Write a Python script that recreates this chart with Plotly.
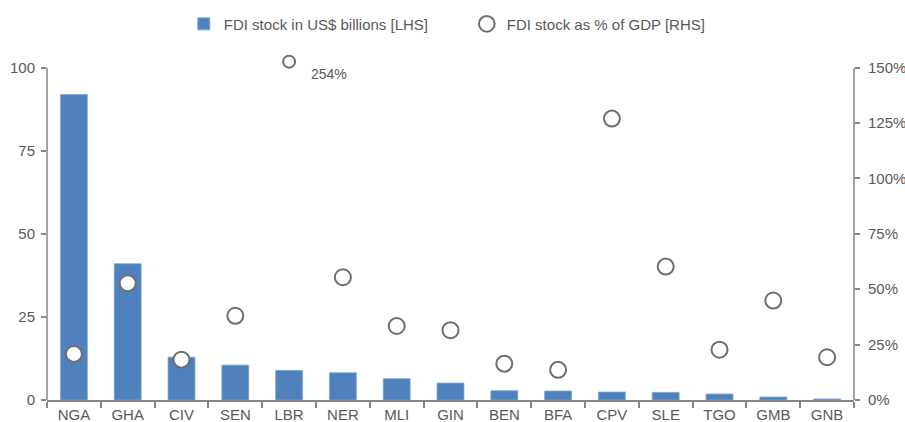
import plotly.graph_objects as go

countries = ["NGA", "GHA", "CIV", "SEN", "LBR", "NER", "MLI", "GIN",
             "BEN", "BFA", "CPV", "SLE", "TGO", "GMB", "GNB"]
fdi_stock_bn = [91.9, 41.0, 12.9, 10.5, 8.9, 8.2, 6.4, 5.1,
                2.8, 2.7, 2.4, 2.3, 1.8, 0.9, 0.3]
fdi_pct_gdp = [20.8, 52.7, 18.2, 38.0, 254.0, 55.4, 33.4, 31.5,
               16.4, 13.6, 127.0, 60.2, 22.7, 44.9, 19.3]

left_ticks = [0, 25, 50, 75, 100]
right_ticks = [0, 25, 50, 75, 100, 125, 150]
right_labels = [f"{t}%" for t in right_ticks]

# values beyond the right scale are pinned just above its top and labelled
PCT_CAP = 152.7
pct_shown = [min(v, PCT_CAP) for v in fdi_pct_gdp]
marker_sizes = [12 if v > PCT_CAP else 16 for v in fdi_pct_gdp]

# both value axes run a little past their last tick to leave room for the pin
HEADROOM = 153 / 150
LEFT_MAX, RIGHT_MAX = left_ticks[-1], right_ticks[-1]

FONT = "Liberation Sans, Arial, sans-serif"
FS = 15
GREY_TXT = "#595959"
AXIS = "#868686"

fig = go.Figure()
fig.add_trace(go.Bar(
    x=countries, y=fdi_stock_bn, name="FDI stock in US$ billions [LHS]",
    marker=dict(color="#4F81BD", line=dict(color="#7FA3D0", width=0.8)),
    width=0.5, yaxis="y",
))
fig.add_trace(go.Scatter(
    x=countries, y=pct_shown, name="FDI stock as % of GDP [RHS]",
    mode="markers", yaxis="y2", cliponaxis=False,
    marker=dict(symbol="circle", size=marker_sizes, color="white",
                opacity=1, line=dict(color="#6E6E6E", width=2)),
))

for c, v, s in zip(countries, fdi_pct_gdp, pct_shown):
    if v > s:
        fig.add_annotation(x=c, xref="x", y=s, yref="y2", text=f"{v:.0f}%",
                           showarrow=False, xanchor="left", yanchor="top",
                           xshift=20, yshift=-2,
                           font=dict(family=FONT, size=FS - 1, color=GREY_TXT))

# value-axis spines stop at the last tick
fig.add_shape(type="line", xref="paper", x0=0, x1=0, yref="y",
              y0=0, y1=LEFT_MAX, line=dict(color=AXIS, width=1.5))
fig.add_shape(type="line", xref="paper", x0=1, x1=1, yref="y2",
              y0=0, y1=RIGHT_MAX, line=dict(color=AXIS, width=1.5))

fig.update_layout(
    width=905, height=422,
    margin=dict(l=47, r=51, t=61, b=22, autoexpand=False),
    paper_bgcolor="white", plot_bgcolor="white",
    font=dict(family=FONT, size=FS, color=GREY_TXT),
    showlegend=True,
    legend=dict(orientation="h", x=0.1695, xanchor="left",
                y=0.982, yanchor="top", yref="container",
                font=dict(family=FONT, size=FS, color=GREY_TXT),
                itemwidth=30, entrywidth=238, entrywidthmode="pixels",
                traceorder="normal"),
    xaxis=dict(
        type="category", showgrid=False, showline=True, linecolor=AXIS,
        linewidth=1.5, ticks="outside", tickson="boundaries", ticklen=6,
        tickcolor=AXIS, tickwidth=1.5, range=[-0.5, 14.5], automargin=False,
        tickfont=dict(family=FONT, size=FS, color=GREY_TXT),
    ),
    yaxis=dict(
        range=[0, LEFT_MAX * HEADROOM], tickvals=left_ticks, showgrid=False,
        zeroline=False, showline=False, ticks="outside", ticklen=5,
        tickcolor=AXIS, tickwidth=1.5, automargin=False, ticklabelstandoff=3,
        tickfont=dict(family=FONT, size=FS, color=GREY_TXT),
    ),
    yaxis2=dict(
        range=[0, RIGHT_MAX * HEADROOM], tickvals=right_ticks,
        ticktext=right_labels, overlaying="y", side="right", showgrid=False,
        zeroline=False, showline=False, ticks="outside", ticklen=5,
        tickcolor=AXIS, tickwidth=1.5, automargin=False, ticklabelstandoff=5,
        tickfont=dict(family=FONT, size=FS, color=GREY_TXT),
    ),
)

fig.write_html("out.html")
